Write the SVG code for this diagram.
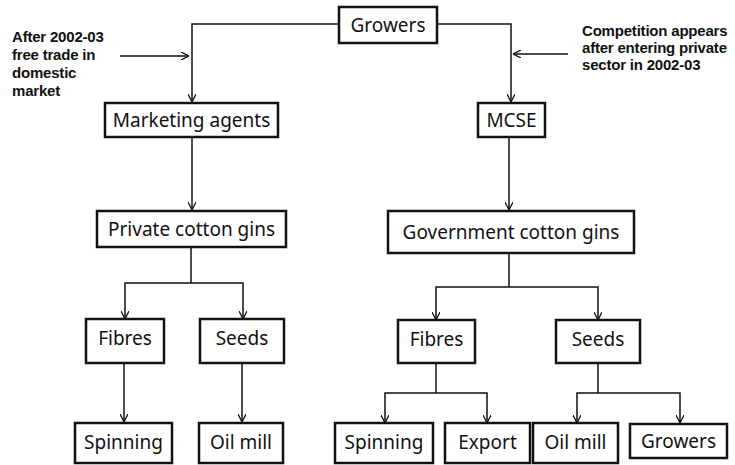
<svg xmlns="http://www.w3.org/2000/svg" width="735" height="465" viewBox="0 0 735 465">
<defs>
<marker id="ah" viewBox="0 0 10 10" refX="10" refY="5" markerWidth="8" markerHeight="8" markerUnits="userSpaceOnUse" orient="auto">
<path d="M0,0 L10,5 L0,10" fill="none" stroke="#111" stroke-width="1.6"/>
</marker>
<style>
.box{fill:#fff;stroke:#111;stroke-width:2.5}
.lbl{font-family:"Noto Sans","Open Sans",sans-serif;font-size:19px;fill:#111;text-anchor:middle;dominant-baseline:central}
.note{font-family:"Liberation Sans",Arial,sans-serif;font-weight:bold;font-size:15px;fill:#111;letter-spacing:-0.2px}
.ln{fill:none;stroke:#111;stroke-width:1.5}
</style>
</defs>
<rect width="735" height="465" fill="#fff"/>
<g id="connectors">
<path class="ln" d="M339,24 H192 V102" marker-end="url(#ah)"/>
<path class="ln" d="M437,24 H511 V102" marker-end="url(#ah)"/>
<path class="ln" d="M120,56 H189" marker-end="url(#ah)"/>
<path class="ln" d="M568,54 H513" marker-end="url(#ah)"/>
<path class="ln" d="M192,137 V210" marker-end="url(#ah)"/>
<path class="ln" d="M509,137 V210" marker-end="url(#ah)"/>
<path class="ln" d="M191,247 V283"/>
<path class="ln" d="M125,318 V283 H243 V318"/>
<path class="ln" d="M125,317 V319" marker-end="url(#ah)"/>
<path class="ln" d="M243,317 V319" marker-end="url(#ah)"/>
<path class="ln" d="M124,363 V422" marker-end="url(#ah)"/>
<path class="ln" d="M242,363 V422" marker-end="url(#ah)"/>
<path class="ln" d="M509,253 V287"/>
<path class="ln" d="M436,319 V287 H598 V319"/>
<path class="ln" d="M436,318 V320" marker-end="url(#ah)"/>
<path class="ln" d="M598,318 V320" marker-end="url(#ah)"/>
<path class="ln" d="M436,363 V393"/>
<path class="ln" d="M385,422 V393 H487 V422"/>
<path class="ln" d="M385,421 V423" marker-end="url(#ah)"/>
<path class="ln" d="M487,421 V423" marker-end="url(#ah)"/>
<path class="ln" d="M598,363 V393"/>
<path class="ln" d="M577,422 V393 H680 V422"/>
<path class="ln" d="M577,421 V423" marker-end="url(#ah)"/>
<path class="ln" d="M680,421 V423" marker-end="url(#ah)"/>
</g>
<g id="note-left">
<text class="note" x="12" y="42">After 2002-03</text>
<text class="note" x="12" y="60">free trade in</text>
<text class="note" x="12" y="78">domestic</text>
<text class="note" x="12" y="96">market</text>
</g>
<g id="note-right">
<text class="note" x="582" y="36">Competition appears</text>
<text class="note" x="582" y="53">after entering private</text>
<text class="note" x="582" y="70">sector in 2002-03</text>
</g>
<g id="growers-top"><rect class="box" x="339" y="7" width="98" height="36"/><text class="lbl" x="388" y="25">Growers</text></g>
<g id="marketing-agents"><rect class="box" x="105" y="103" width="173" height="34"/><text class="lbl" x="191.5" y="120">Marketing agents</text></g>
<g id="mcse"><rect class="box" x="478" y="103" width="67" height="34"/><text class="lbl" x="511.5" y="120">MCSE</text></g>
<g id="private-gins"><rect class="box" x="97" y="211" width="189" height="36"/><text class="lbl" x="191.5" y="229">Private cotton gins</text></g>
<g id="gov-gins"><rect class="box" x="388" y="211" width="246" height="42"/><text class="lbl" x="511" y="232">Government cotton gins</text></g>
<g id="fibres-l"><rect class="box" x="86" y="319" width="78" height="44"/><text class="lbl" x="125" y="338">Fibres</text></g>
<g id="seeds-l"><rect class="box" x="200" y="319" width="84" height="44"/><text class="lbl" x="242" y="338">Seeds</text></g>
<g id="fibres-r"><rect class="box" x="398" y="320" width="77" height="43"/><text class="lbl" x="436.5" y="339">Fibres</text></g>
<g id="seeds-r"><rect class="box" x="556" y="320" width="84" height="43"/><text class="lbl" x="598" y="339">Seeds</text></g>
<g id="spinning-l"><rect class="box" x="75" y="423" width="97" height="40"/><text class="lbl" x="123.5" y="442">Spinning</text></g>
<g id="oilmill-l"><rect class="box" x="199" y="423" width="84" height="40"/><text class="lbl" x="241" y="442">Oil mill</text></g>
<g id="spinning-r"><rect class="box" x="335" y="423" width="98" height="40"/><text class="lbl" x="384" y="442">Spinning</text></g>
<g id="export"><rect class="box" x="445" y="423" width="85" height="40"/><text class="lbl" x="487.5" y="442">Export</text></g>
<g id="oilmill-r"><rect class="box" x="533" y="423" width="85" height="40"/><text class="lbl" x="575.5" y="442">Oil mill</text></g>
<g id="growers-bottom"><rect class="box" x="630" y="424" width="97" height="34"/><text class="lbl" x="678.5" y="441">Growers</text></g>
</svg>
